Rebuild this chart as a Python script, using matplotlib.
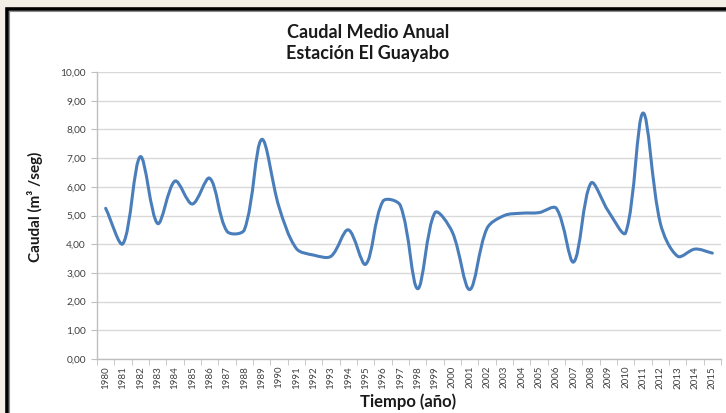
import matplotlib
matplotlib.use("Agg")
import matplotlib.pyplot as plt
from matplotlib.path import Path
from matplotlib.patches import PathPatch, Rectangle
from matplotlib.ticker import FuncFormatter, MultipleLocator
import numpy as np

plt.rcParams["font.family"] = ["Lato", "DejaVu Sans"]

YEARS = list(range(1980, 2016))
CAUDAL = [5.25, 4.02, 7.05, 4.72, 6.20, 5.40, 6.30, 4.45, 4.50, 7.65,
          5.30, 3.85, 3.62, 3.58, 4.50, 3.30, 5.50, 5.35, 2.45, 5.10,
          4.42, 2.42, 4.55, 5.00, 5.08, 5.10, 5.25, 3.38, 6.13, 5.15,
          4.40, 8.57, 4.73, 3.58, 3.83, 3.69]
TITLE = "Caudal Medio Anual\nEstación El Guayabo"
XLABEL = "Tiempo (año)"
YLABEL = "Caudal (m³ /seg)"
LINE_C = "#4a7ebb"

fig = plt.figure(figsize=(7.26, 4.13), dpi=100, facecolor="#f3efe6")
# white chart area with black frame (bottom/right cut off like the screenshot)
fig.patches.append(Rectangle((7 / 726, -0.05), 1.1, 1 - 9 / 413 + 0.05, transform=fig.transFigure,
                             fc="white", ec="black", lw=2.6, zorder=-2))
fig.patches.append(Rectangle((9 / 726, -0.05), 1.1, 1 - 11 / 413 + 0.05, transform=fig.transFigure,
                             fc="none", ec="#8c8c8c", lw=0.8, zorder=-1))

ax = fig.add_axes([97 / 726, 1 - 359 / 413, 624 / 726, 287 / 413])
ax.set_facecolor("none")

# Excel-like smoothed line: cubic Bezier, tangents scaled by segment length on screen
x = np.arange(len(CAUDAL), dtype=float)
y = np.array(CAUDAL)
sx, sy = 17.3, 28.7  # px per unit, only used to weigh segment lengths
pts = np.column_stack([x, y])
ext = np.vstack([pts[0], pts, pts[-1]])
seg = np.hypot(np.diff(ext[:, 0]) * sx, np.diff(ext[:, 1]) * sy)
seg[seg == 0] = 1e-9
verts, codes = [tuple(pts[0])], [Path.MOVETO]
for i in range(len(pts) - 1):
    p_prev, p0, p1, p_next = ext[i], ext[i + 1], ext[i + 2], ext[i + 3]
    d_a, d_b, d_c = seg[i], seg[i + 1], seg[i + 2]
    c1 = p0 + (p1 - p_prev) * d_b / (d_a + d_b) / 3
    c2 = p1 - (p_next - p0) * d_b / (d_b + d_c) / 3
    verts += [tuple(c1), tuple(c2), tuple(p1)]
    codes += [Path.CURVE4] * 3
ax.add_patch(PathPatch(Path(verts, codes), fc="none", ec=LINE_C, lw=2.2, zorder=3,
                       capstyle="round", joinstyle="round"))

ax.set_xlim(-0.5, len(YEARS) - 0.5)
ax.set_ylim(0, 10)
ax.yaxis.set_major_locator(MultipleLocator(1))
ax.yaxis.set_major_formatter(FuncFormatter(lambda v, p: f"{v:.2f}".replace(".", ",")))
ax.grid(axis="y", color="#d9d9d9", lw=1.0, zorder=0)
ax.set_axisbelow(True)
ax.set_xticks(x)
ax.set_xticklabels([str(v) for v in YEARS], rotation=90, fontsize=7, color="#404040")
ax.set_xticks(np.arange(-0.5, len(YEARS)), minor=True)
ax.tick_params(axis="x", which="major", length=0, pad=5)
ax.tick_params(axis="x", which="minor", length=4, color="#bfbfbf")
ax.tick_params(axis="y", length=4, color="#bfbfbf", labelsize=7.3, labelcolor="#404040", pad=4)
for s in ("top", "right"):
    ax.spines[s].set_visible(False)
for s in ("left", "bottom"):
    ax.spines[s].set_color("#bfbfbf")
    ax.spines[s].set_linewidth(1.0)

fig.text(368 / 726, 1 - 43 / 413, TITLE, ha="center", va="center", fontsize=13,
         fontweight="bold", color="#1a1a1a", linespacing=1.3)
fig.text(35 / 726, 1 - 207 / 413, YLABEL, ha="center", va="center", rotation=90,
         fontsize=11, fontweight="bold", color="#1a1a1a")
fig.text(408 / 726, 1 - 402 / 413, XLABEL, ha="center", va="center", fontsize=12,
         fontweight="bold", color="#1a1a1a")

fig.savefig("out.png", dpi=100, facecolor=fig.get_facecolor())
